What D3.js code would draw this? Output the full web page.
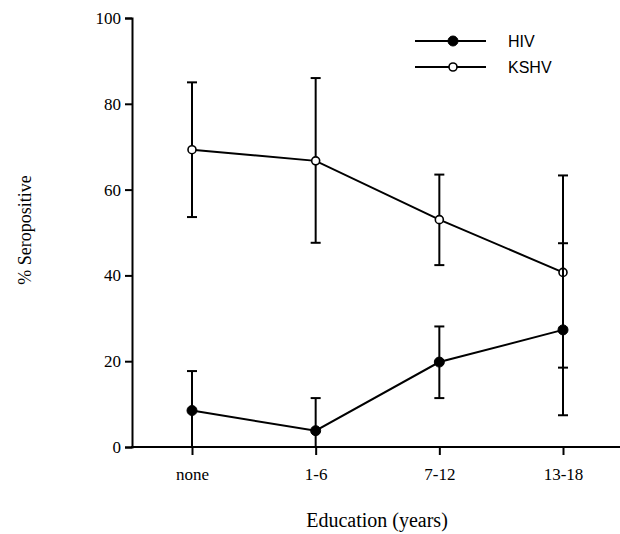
<!DOCTYPE html>
<meta charset="utf-8">
<style>
  body { margin: 0; background: #fff; }
  .axis path, .axis line { stroke: #000; stroke-width: 2; }
  .title { font-family: "Liberation Serif", "Times New Roman", serif; fill: #000; }
  .legend text { font-family: "Liberation Sans", Arial, sans-serif; font-size: 16px; fill: #000; }
</style>
<body>
<script src="https://d3js.org/d3.v7.min.js"></script>
<div id="chart"></div>
<script>
var categories = ["none", "1-6", "7-12", "13-18"];
var hiv      = [8.5, 3.8, 19.8, 27.3];
var hivLow   = [0, 0, 11.4, 7.4];
var hivHigh  = [17.7, 11.4, 28.1, 47.5];
var kshv     = [69.3, 66.7, 53.0, 40.7];
var kshvLow  = [53.6, 47.6, 42.4, 18.5];
var kshvHigh = [85.0, 86.0, 63.5, 63.3];
var yTicks = [0, 20, 40, 60, 80, 100];

var width = 620, height = 534;
var serif = "'Liberation Serif', 'Times New Roman', serif";

var svg = d3.select("#chart").append("svg")
    .attr("width", width)
    .attr("height", height);

var x = d3.scalePoint()
    .domain(categories)
    .range([192, 563]);

var y = d3.scaleLinear()
    .domain([0, 100])
    .range([447, 18]);

// y axis
svg.append("g")
    .attr("class", "axis")
    .attr("transform", "translate(132,0)")
    .call(d3.axisLeft(y).tickValues(yTicks).tickSize(7).tickSizeOuter(7).tickPadding(4))
    .attr("font-size", 17)
    .attr("font-family", serif);

// x axis
var xAxis = svg.append("g")
    .attr("class", "axis")
    .attr("transform", "translate(0,447)")
    .call(d3.axisBottom(x).tickSize(8).tickSizeOuter(0).tickPadding(13))
    .attr("font-size", 17)
    .attr("font-family", serif);
xAxis.select(".domain").attr("d", "M131,0H620");

svg.append("text")
    .attr("class", "title")
    .attr("font-size", 20)
    .attr("x", 377)
    .attr("y", 527)
    .attr("text-anchor", "middle")
    .text("Education (years)");

svg.append("text")
    .attr("class", "title")
    .attr("font-size", 18)
    .attr("transform", "translate(31,230) rotate(-90)")
    .attr("text-anchor", "middle")
    .text("% Seropositive");

function drawSeries(vals, lo, hi, filled) {
  var g = svg.append("g");
  // error bars
  categories.forEach(function(c, i) {
    var cx = x(c);
    g.append("line")
      .attr("x1", cx).attr("x2", cx)
      .attr("y1", y(lo[i])).attr("y2", y(hi[i]))
      .attr("stroke", "#000").attr("stroke-width", 2);
    [lo[i], hi[i]].forEach(function(v) {
      if (v <= 0) return;
      g.append("line")
        .attr("x1", cx - 5).attr("x2", cx + 5)
        .attr("y1", y(v)).attr("y2", y(v))
        .attr("stroke", "#000").attr("stroke-width", 2);
    });
  });
  var line = d3.line()
    .x(function(d, i) { return x(categories[i]); })
    .y(function(d) { return y(d); });
  g.append("path")
    .datum(vals)
    .attr("d", line)
    .attr("fill", "none")
    .attr("stroke", "#000")
    .attr("stroke-width", 2);
  g.selectAll("circle")
    .data(vals)
    .enter().append("circle")
    .attr("cx", function(d, i) { return x(categories[i]); })
    .attr("cy", function(d) { return y(d); })
    .attr("r", filled ? 5 : 4)
    .attr("fill", filled ? "#000" : "#fff")
    .attr("stroke", "#000")
    .attr("stroke-width", filled ? 1 : 1.6);
}

drawSeries(kshv, kshvLow, kshvHigh, false);
drawSeries(hiv, hivLow, hivHigh, true);

// legend
var legendItems = [{name: "HIV", filled: true}, {name: "KSHV", filled: false}];
var legend = svg.append("g").attr("class", "legend");
legendItems.forEach(function(d, i) {
  var ly = 41 + i * 26;
  legend.append("line")
    .attr("x1", 415).attr("x2", 486)
    .attr("y1", ly).attr("y2", ly)
    .attr("stroke", "#000").attr("stroke-width", 2);
  legend.append("circle")
    .attr("cx", 453).attr("cy", ly)
    .attr("r", d.filled ? 5 : 4)
    .attr("fill", d.filled ? "#000" : "#fff")
    .attr("stroke", "#000")
    .attr("stroke-width", d.filled ? 1 : 1.6);
  legend.append("text")
    .attr("x", 508).attr("y", ly + 6)
    .text(d.name);
});
</script>
</body>
